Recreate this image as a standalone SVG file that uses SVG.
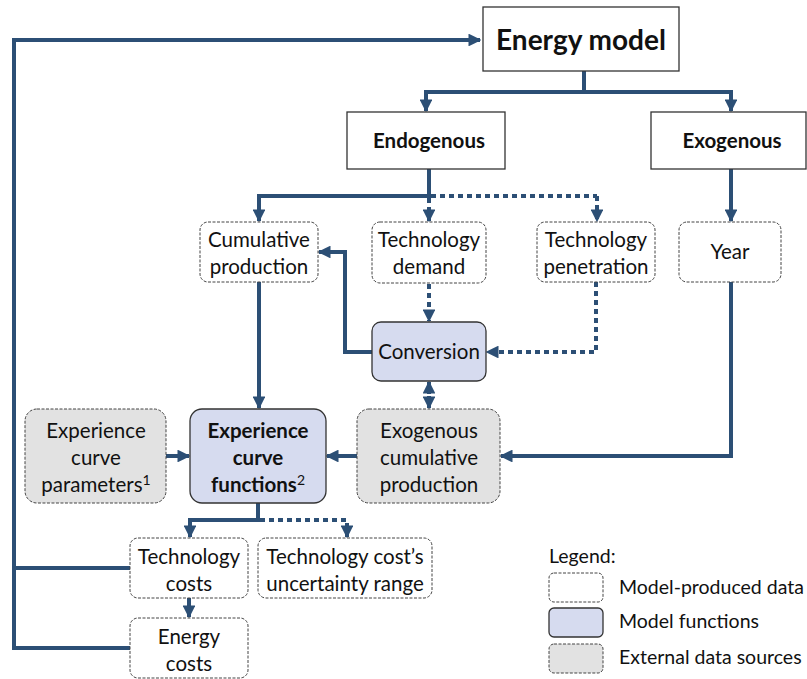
<svg xmlns="http://www.w3.org/2000/svg" width="807" height="679" viewBox="0 0 807 679">
<defs>
<marker id="ah" viewBox="0 0 10 10" refX="9" refY="5" markerWidth="3.2" markerHeight="3.2" orient="auto-start-reverse" markerUnits="strokeWidth">
<path d="M0,0 L10,5 L0,10 z" fill="#2c4f75"/>
</marker>
<style>
.t{font-family:Lato,"Open Sans","Liberation Sans",sans-serif;font-size:20.5px;fill:#111;text-anchor:middle}
.b{font-weight:bold}
.sq{fill:#fff;stroke:#333;stroke-width:1.3}
.d{fill:#fff;stroke:#444;stroke-width:1;stroke-dasharray:3,1.5}
.g{fill:#e2e2e2;stroke:#444;stroke-width:1;stroke-dasharray:3,1.5}
.f{fill:#d6dbef;stroke:#333;stroke-width:1.3}
.c{fill:none;stroke:#2c4f75;stroke-width:4}
.dt{stroke-dasharray:5,4}
.a{marker-end:url(#ah)}
.lg{font-family:Lato,"Open Sans","Liberation Sans",sans-serif;font-size:19.5px;fill:#111}
</style>
</defs>

<g id="connectors">
<polyline class="c a" points="14,568 14,40 480,40"/>
<line class="c" x1="14" y1="568" x2="130" y2="568"/>
<polyline class="c" points="14,560 14,648 130,648"/>
<line class="c" x1="584" y1="71" x2="584" y2="92"/>
<polyline class="c a" points="584,92 426,92 426,111"/>
<polyline class="c a" points="584,92 731,92 731,111"/>
<line class="c" x1="429" y1="169" x2="429" y2="196"/>
<polyline class="c a" points="431,196 259,196 259,221"/>
<polyline class="c dt" points="431,196 597,196"/>
<polyline class="c dt a" points="429,198 429,221"/>
<polyline class="c dt a" points="597,196 597,221"/>
<line class="c a" x1="731" y1="169" x2="731" y2="221"/>
<line class="c a" x1="259" y1="282" x2="259" y2="408"/>
<line class="c dt a" x1="429" y1="284" x2="429" y2="321"/>
<polyline class="c a" points="372,352 345,352 345,252 319,252"/>
<polyline class="c dt a" points="596,282 596,352 487,352"/>
<polyline class="c a" points="731,282 731,456 501,456"/>
<line class="c a" x1="429" y1="394" x2="429" y2="382"/>
<line class="c a" x1="429" y1="396" x2="429" y2="408"/>
<line class="c a" x1="166" y1="456" x2="189" y2="456"/>
<line class="c a" x1="357" y1="456" x2="327" y2="456"/>
<line class="c" x1="258" y1="503" x2="258" y2="520"/>
<polyline class="c a" points="260,520 190,520 190,537"/>
<polyline class="c dt a" points="260,520 347,520 347,537"/>
<line class="c a" x1="189" y1="598" x2="189" y2="617"/>
</g>

<g id="energy-model"><rect class="sq" x="483" y="7" width="196" height="64"/><text class="t b" x="581" y="50" style="font-size:28px">Energy model</text></g>
<g id="endogenous"><rect class="sq" x="347" y="112" width="158" height="57"/><text class="t b" x="429" y="148">Endogenous</text></g>
<g id="exogenous"><rect class="sq" x="651" y="112" width="155" height="57"/><text class="t b" x="732" y="148">Exogenous</text></g>

<g id="cumulative-production"><rect class="d" x="200" y="222" width="118" height="60" rx="8"/><text class="t" x="259" y="247">Cumulative</text><text class="t" x="259" y="274">production</text></g>
<g id="technology-demand"><rect class="d" x="372" y="222" width="114" height="61" rx="8"/><text class="t" x="429" y="247">Technology</text><text class="t" x="429" y="274">demand</text></g>
<g id="technology-penetration"><rect class="d" x="537" y="222" width="118" height="60" rx="8"/><text class="t" x="596" y="247">Technology</text><text class="t" x="596" y="274">penetration</text></g>
<g id="year"><rect class="d" x="679" y="222" width="102" height="60" rx="8"/><text class="t" x="730" y="259">Year</text></g>

<g id="conversion"><rect class="f" x="372" y="322" width="114" height="59" rx="9"/><text class="t" x="429" y="359">Conversion</text></g>

<g id="experience-curve-parameters"><rect class="g" x="25" y="409" width="141" height="94" rx="12"/><text class="t" x="96" y="438">Experience</text><text class="t" x="96" y="465">curve</text><text class="t" x="96" y="492">parameters<tspan dy="-7" style="font-size:14px">1</tspan></text></g>
<g id="experience-curve-functions"><rect class="f" x="190" y="409" width="136" height="94" rx="12"/><text class="t b" x="258" y="438">Experience</text><text class="t b" x="258" y="465">curve</text><text class="t" x="258" y="492"><tspan class="b">functions</tspan><tspan dy="-7" style="font-size:14px">2</tspan></text></g>
<g id="exogenous-cumulative-production"><rect class="g" x="357" y="409" width="143" height="94" rx="12"/><text class="t" x="429" y="438">Exogenous</text><text class="t" x="429" y="465">cumulative</text><text class="t" x="429" y="492">production</text></g>

<g id="technology-costs"><rect class="d" x="130" y="538" width="118" height="60" rx="8"/><text class="t" x="189" y="564">Technology</text><text class="t" x="189" y="591">costs</text></g>
<g id="uncertainty-range"><rect class="d" x="258" y="538" width="174" height="60" rx="8"/><text class="t" x="345" y="564">Technology cost’s</text><text class="t" x="345" y="591">uncertainty range</text></g>
<g id="energy-costs"><rect class="d" x="130" y="618" width="118" height="60" rx="8"/><text class="t" x="189" y="644">Energy</text><text class="t" x="189" y="671">costs</text></g>

<g id="legend">
<text class="lg" x="549" y="563">Legend:</text>
<rect class="d" x="549" y="573" width="54" height="29" rx="5"/>
<rect class="f" x="549" y="608" width="54" height="29" rx="5"/>
<rect class="g" x="549" y="644" width="54" height="29" rx="5"/>
<text class="lg" x="619" y="594">Model-produced data</text>
<text class="lg" x="619" y="628">Model functions</text>
<text class="lg" x="619" y="664">External data sources</text>
</g>
</svg>
